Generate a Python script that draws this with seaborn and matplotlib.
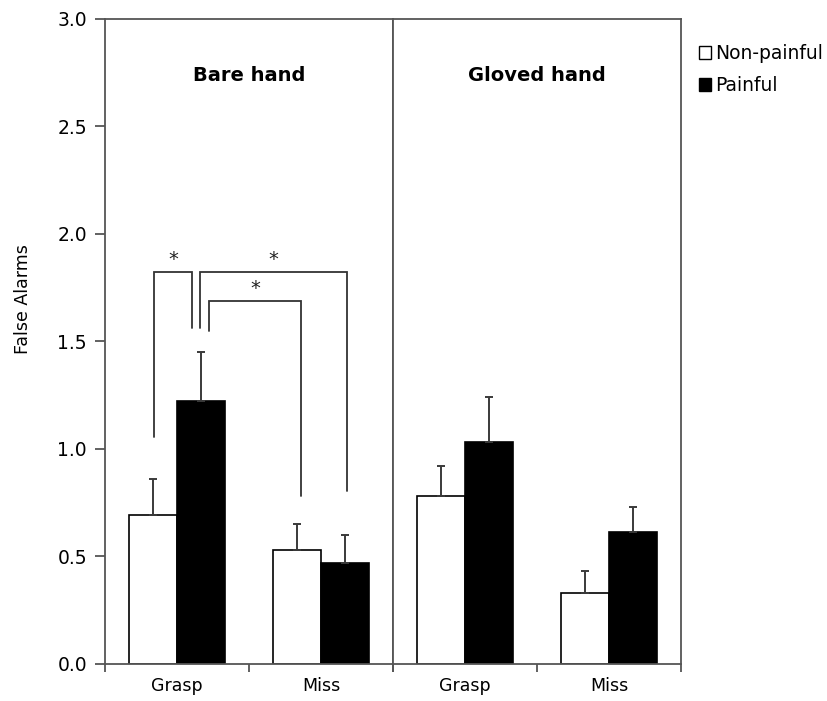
import matplotlib
matplotlib.use("Agg")
import matplotlib.pyplot as plt
from matplotlib.patches import Patch
import numpy as np
import pandas as pd
import seaborn as sns

# ---- data -------------------------------------------------------------
hands = ["Bare hand", "Gloved hand"]
movements = ["Grasp", "Miss"]
stimuli = ["Non-painful", "Painful"]

# mean false alarms, ordered (Bare Grasp, Bare Miss, Gloved Grasp, Gloved Miss)
non_painful = [0.69, 0.53, 0.78, 0.33]
painful = [1.22, 0.47, 1.03, 0.61]
# standard errors (drawn upward only)
non_painful_err = [0.17, 0.12, 0.14, 0.10]
painful_err = [0.23, 0.13, 0.21, 0.12]

yticks = [0.0, 0.5, 1.0, 1.5, 2.0, 2.5, 3.0]

rows = []
for i, hand in enumerate(hands):
    for j, mov in enumerate(movements):
        k = 2 * i + j
        rows.append((hand, mov, "Non-painful", non_painful[k], non_painful_err[k]))
        rows.append((hand, mov, "Painful", painful[k], painful_err[k]))
df = pd.DataFrame(rows, columns=["hand", "movement", "stimulus", "value", "err"])

# ---- style ------------------------------------------------------------
sns.set_theme(style="white")
plt.rcParams["font.family"] = ["DejaVu Sans"]
for key in ["text.color", "axes.labelcolor", "xtick.labelcolor", "ytick.labelcolor"]:
    plt.rcParams[key] = "black"
spine_col = "#555555"
line_col = "#333333"

fig = plt.figure(figsize=(8.28, 7.01), dpi=100)
W, H = 828, 701
bottom = (H - 663.5) / H
height = (663.5 - 19) / H
ax_l = fig.add_axes([105 / W, bottom, 288 / W, height])
ax_r = fig.add_axes([393 / W, bottom, 288 / W, height], sharey=ax_l)

palette = {"Non-painful": "white", "Painful": "black"}

for ax, hand in zip([ax_l, ax_r], hands):
    sub = df[df["hand"] == hand]
    sns.barplot(data=sub, x="movement", y="value", hue="stimulus",
                order=movements, hue_order=stimuli, palette=palette,
                edgecolor="black", linewidth=1.2, width=0.667, gap=0,
                errorbar=None, legend=False, ax=ax)
    # upward-only error bars at the bar centres
    for container, stim in zip(ax.containers, stimuli):
        for patch, mov in zip(container.patches, movements):
            e = sub[(sub["movement"] == mov) & (sub["stimulus"] == stim)]["err"].iloc[0]
            xc = patch.get_x() + patch.get_width() / 2
            top = patch.get_height()
            ax.errorbar(xc, top, yerr=[[0], [e]], fmt="none", ecolor="#3a3a3a",
                        elinewidth=1.4, capsize=3, capthick=1.4, zorder=1)
    ax.set_xlim(-0.5, 1.5)
    ax.set_ylim(0, 3.0)
    ax.set_xlabel("")
    ax.set_ylabel("")
    ax.text(0.5, 0.913, hand, transform=ax.transAxes, ha="center", va="center",
            fontsize=14, fontweight="bold", color="black")
    for s in ax.spines.values():
        s.set_visible(True)
        s.set_color(spine_col)
        s.set_linewidth(1.3)
    # category labels at centres, tick marks at category boundaries
    ax.set_xticks(range(len(movements)))
    ax.set_xticklabels(movements, fontsize=12.5)
    ax.tick_params(axis="x", which="major", length=0, pad=10)
    ax.set_xticks([-0.5, 0.5, 1.5], minor=True)
    ax.tick_params(axis="x", which="minor", bottom=True, length=6,
                   width=1.3, color=spine_col, direction="out")

ax_l.set_yticks(yticks)
ax_l.set_yticklabels([f"{v:.1f}" for v in yticks], fontsize=13.5)
ax_l.tick_params(axis="y", left=True, length=7, width=1.3, color=spine_col,
                 direction="out", pad=6)
ax_r.tick_params(axis="y", left=False, labelleft=False)
ax_l.set_ylabel("False Alarms", fontsize=12.5)
ax_l.yaxis.set_label_coords(-0.255, 0.565)

# ---- significance brackets (bare hand panel) ---------------------------
# (x_left, x_right, y_bottom_left, y_bottom_right, y_top)
brackets = [
    (-0.158, 0.104, 1.053, 1.564, 1.821),
    (0.162, 1.181, 1.564, 0.802, 1.821),
    (0.224, 0.859, 1.548, 0.778, 1.688),
]
for x1, x2, yb1, yb2, yt in brackets:
    ax_l.plot([x1, x1, x2, x2], [yb1, yt, yt, yb2], color=line_col,
              lw=1.3, solid_joinstyle="miter", zorder=3)
    ax_l.text((x1 + x2) / 2, yt + 0.015, "*", ha="center", va="bottom",
              fontsize=14, color="#222222")

# ---- legend -----------------------------------------------------------
handles = [Patch(facecolor=palette[s], edgecolor="black", linewidth=1.0) for s in stimuli]
fig.legend(handles, stimuli, loc="upper left", bbox_to_anchor=(699 / W, 1 - 44 / H),
           frameon=False, fontsize=13.5, handlelength=0.65, handleheight=0.7,
           handletextpad=0.2, labelspacing=0.7, borderaxespad=0, borderpad=0)

fig.savefig("out.png", dpi=100, facecolor="white")
